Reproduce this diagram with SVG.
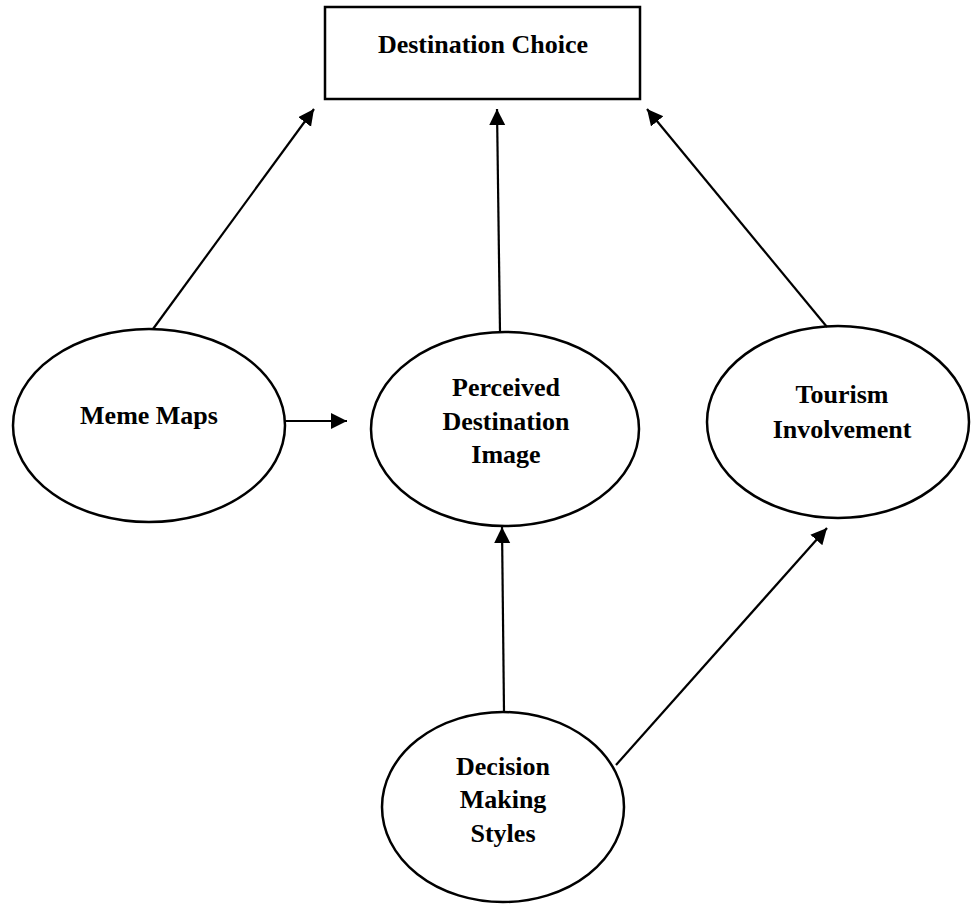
<svg xmlns="http://www.w3.org/2000/svg" width="971" height="905" viewBox="0 0 971 905">
<style>
.shape{fill:#fff;stroke:#000;stroke-width:2.5}
.lbl{font-family:"Liberation Serif","Times New Roman",serif;font-weight:bold;font-size:26px;fill:#000;text-anchor:middle}
.conn{stroke:#000;stroke-width:2.2;fill:none;marker-end:url(#arrow)}
</style>
<defs>
<marker id="arrow" markerUnits="userSpaceOnUse" markerWidth="18" markerHeight="18" refX="16" refY="8" orient="auto">
<path d="M0,0 L16,8 L0,16 z" fill="#000"/>
</marker>
</defs>
<rect width="971" height="905" fill="#fff"/>
<g id="destination-choice">
<rect class="shape" x="325" y="7" width="315" height="92"/>
<text class="lbl" x="483" y="53">Destination Choice</text>
</g>
<g id="meme-maps">
<ellipse class="shape" cx="149" cy="425.5" rx="136" ry="96.5"/>
<text class="lbl" x="149" y="424">Meme Maps</text>
</g>
<g id="perceived-destination-image">
<ellipse class="shape" cx="505" cy="429" rx="134" ry="97"/>
<text class="lbl" x="506" y="396">Perceived</text>
<text class="lbl" x="506" y="430">Destination</text>
<text class="lbl" x="506" y="463">Image</text>
</g>
<g id="tourism-involvement">
<ellipse class="shape" cx="838" cy="422" rx="131" ry="96"/>
<text class="lbl" x="842" y="403">Tourism</text>
<text class="lbl" x="842" y="438">Involvement</text>
</g>
<g id="decision-making-styles">
<ellipse class="shape" cx="503" cy="807" rx="121" ry="95"/>
<text class="lbl" x="503" y="775">Decision</text>
<text class="lbl" x="503" y="808">Making</text>
<text class="lbl" x="503" y="842">Styles</text>
</g>
<g id="connectors">
<line class="conn" x1="153" y1="329" x2="314" y2="109"/>
<line class="conn" x1="500" y1="332" x2="497" y2="109"/>
<line class="conn" x1="827" y1="327" x2="647" y2="109"/>
<line class="conn" x1="285" y1="421" x2="347" y2="421"/>
<line class="conn" x1="504" y1="712" x2="502" y2="527"/>
<line class="conn" x1="616" y1="765" x2="827" y2="528"/>
</g>
</svg>
